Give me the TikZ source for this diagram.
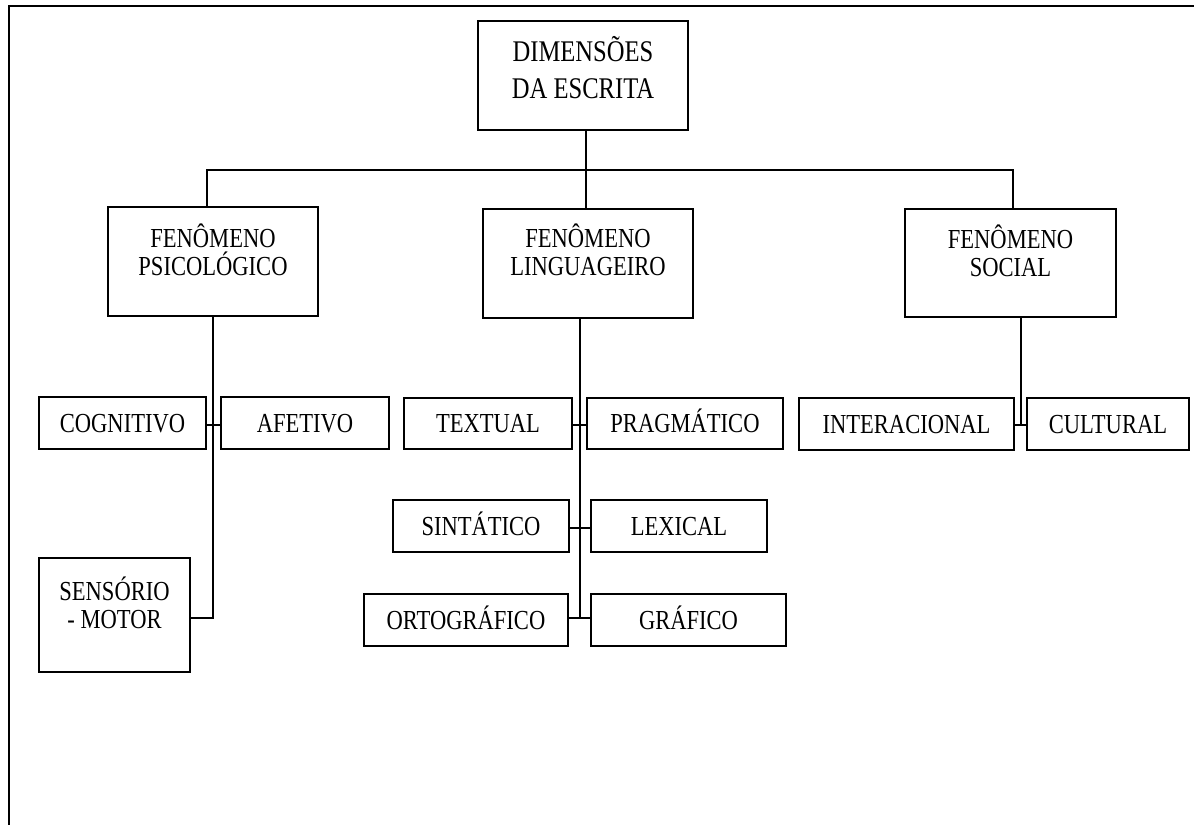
\documentclass[tikz,border=0pt]{standalone}
\usepackage{fontspec}
\setmainfont{Liberation Serif}[FakeStretch=0.82]
\begin{document}
\begin{tikzpicture}[x=1pt,y=-1pt,
  box/.style={draw, line width=2.1pt, rectangle, inner sep=0pt, text height=18pt, text depth=0pt, font=\fontsize{27.5}{28}\selectfont},
  lbl/.style={anchor=base, align=center, inner sep=0pt, font=\fontsize{27.5}{28}\selectfont},
  conn/.style={line width=2.1pt},
  frame/.style={line width=1.8pt}]
\useasboundingbox (0,0) rectangle (1194,825);
\draw[frame] (1194,6) -- (9,6) -- (9,825);
% boxes
\node[box, minimum width=210pt, minimum height=109pt] (top) at (583,75.5) {};
\node[box, minimum width=210pt, minimum height=109pt] (psi) at (213,261.5) {};
\node[box, minimum width=210pt, minimum height=109pt] (lin) at (588,263.5) {};
\node[box, minimum width=211pt, minimum height=108pt] (soc) at (1010.5,263) {};
\node[box, minimum width=167pt, minimum height=52pt] (cog) at (122.5,423) {COGNITIVO};
\node[box, minimum width=168pt, minimum height=52pt] (afe) at (305,423) {AFETIVO};
\node[box, minimum width=151pt, minimum height=114pt] (sen) at (114.5,615) {};
\node[box, minimum width=168pt, minimum height=51pt] (tex) at (488,423.5) {TEXTUAL};
\node[box, minimum width=196pt, minimum height=51pt] (pra) at (685,423.5) {PRAGMÁTICO};
\node[box, minimum width=176pt, minimum height=52pt] (sin) at (481,526) {SINTÁTICO};
\node[box, minimum width=176pt, minimum height=52pt] (lex) at (679,526) {LEXICAL};
\node[box, minimum width=204pt, minimum height=52pt] (ort) at (466,620) {ORTOGRÁFICO};
\node[box, minimum width=195pt, minimum height=52pt] (gra) at (688.5,620) {GRÁFICO};
\node[box, minimum width=215pt, minimum height=52pt] (int) at (906.5,424) {INTERACIONAL};
\node[box, minimum width=162pt, minimum height=52pt] (cul) at (1108,424) {CULTURAL};
% multi-line labels (base anchor = last line)
\node[lbl, font=\fontsize{30}{36.7}\selectfont] (topT) at (583,98.3) {DIMENSÕES\\DA ESCRITA};
\node[lbl] (psiT) at (213,275) {FENÔMENO\\PSICOLÓGICO};
\node[lbl] (linT) at (588,275) {FENÔMENO\\LINGUAGEIRO};
\node[lbl] (socT) at (1010.5,276) {FENÔMENO\\SOCIAL};
\node[lbl] (senT) at (114.5,628) {SENSÓRIO\\- MOTOR};
% bus
\coordinate (mx) at (586,170);
\coordinate (busL) at (207,170);
\coordinate (busR) at (1013,170);
\draw[conn] (top.south -| mx) -- (lin.north -| mx);
\draw[conn] (busL |- psi.north) -- (busL) -- (busR) -- (busR |- soc.north);
% psicologico branch
\coordinate (pt) at (213,618);
\coordinate (pc) at (213,425);
\draw[conn] (psi.south -| pt) -- (pt) -- (pt -| sen.east);
\draw[conn] (pc -| cog.east) -- (pc -| afe.west);
% linguageiro branch
\coordinate (lt) at (580,618);
\coordinate (l1) at (580,425);
\coordinate (l2) at (580,528);
\draw[conn] (lin.south -| lt) -- (lt);
\draw[conn] (l1 -| tex.east) -- (l1 -| pra.west);
\draw[conn] (l2 -| sin.east) -- (l2 -| lex.west);
\draw[conn] (lt -| ort.east) -- (lt -| gra.west);
% social branch
\coordinate (st) at (1021,425);
\draw[conn] (soc.south -| st) -- (st);
\draw[conn] (st -| int.east) -- (st -| cul.west);
\end{tikzpicture}
\end{document}
